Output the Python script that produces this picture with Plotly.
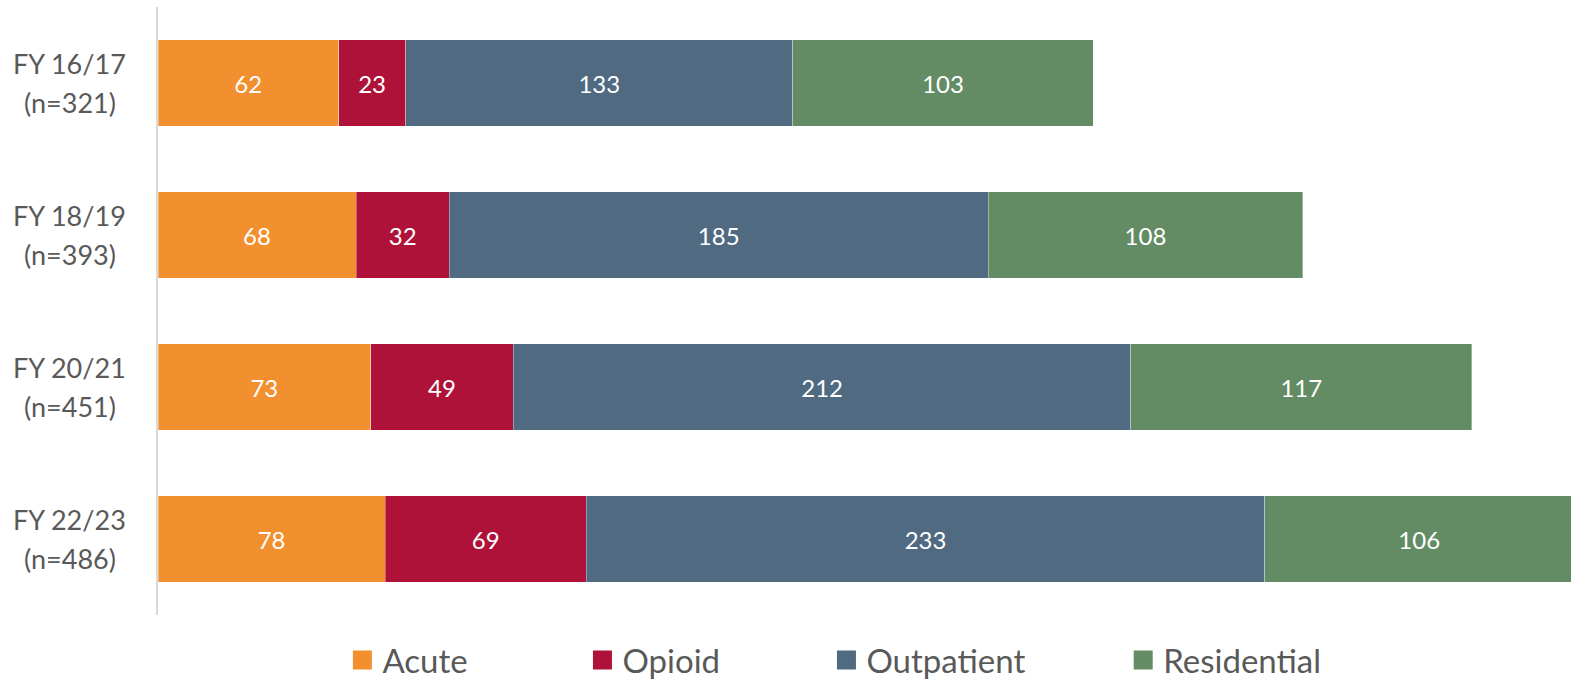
import plotly.graph_objects as go

years = ["FY 16/17", "FY 18/19", "FY 20/21", "FY 22/23"]
totals = [321, 393, 451, 486]
series_names = ["Acute", "Opioid", "Outpatient", "Residential"]
acute = [62, 68, 73, 78]
opioid = [23, 32, 49, 69]
outpatient = [133, 185, 212, 233]
residential = [103, 108, 117, 106]
colors = ["#F28F2E", "#AE1238", "#4F6A81", "#638C65"]

categories = [f"{y} (n={n})" for y, n in zip(years, totals)]
values = [acute, opioid, outpatient, residential]

FONT = "Lato"
TXT = "#595959"
fig = go.Figure()
for name, vals, col in zip(series_names, values, colors):
    fig.add_trace(go.Bar(
        y=categories, x=vals, orientation="h", name=name,
        marker=dict(color=col, line=dict(color="rgba(255,255,255,0.35)", width=1)),
        text=[str(v) for v in vals], textposition="inside",
        insidetextanchor="middle", textangle=0,
        textfont=dict(family=FONT, size=24, color="white"),
        showlegend=False, cliponaxis=True, hoverinfo="skip",
    ))

pads = [13, 12, 11, 0]
for name, col, p in zip(series_names, colors, pads):
    fig.add_trace(go.Scatter(
        x=[None], y=[None], mode="markers", name=name + "\u00a0" * p,
        marker=dict(symbol="square", size=16, color=col, line=dict(color=col, width=3)),
        showlegend=True, hoverinfo="skip",
    ))

# category labels (two centred lines each)
annotations = []
for cat, y, n in zip(categories, years, totals):
    for line, shift in ((y, 19.5), (f"(n={n})", -19.5)):
        annotations.append(dict(
            x=-0.0623, xref="paper", y=cat, yref="y", text=line,
            showarrow=False, xanchor="center", yanchor="middle", yshift=shift,
            font=dict(family=FONT, size=27, color=TXT),
        ))

fig.update_layout(
    width=1571, height=679,
    margin=dict(l=158, r=0, t=7, b=64, autoexpand=False),
    barmode="stack", bargap=0.434,
    plot_bgcolor="white", paper_bgcolor="white",
    font=dict(family=FONT, color=TXT),
    hovermode=False,
    xaxis=dict(range=[0, 485.1], visible=False, showgrid=False, zeroline=False),
    yaxis=dict(autorange="reversed", showline=True, linecolor="#D9D9D9", linewidth=2,
               showgrid=False, ticks="", showticklabels=False),
    legend=dict(orientation="h", x=0.1305, xanchor="left", y=-0.074, yanchor="middle",
                traceorder="normal",
                font=dict(family=FONT, size=33, color=TXT),
                itemclick=False, itemdoubleclick=False, tracegroupgap=0),
    annotations=annotations,
)

fig.write_html("out.html", config={"displayModeBar": False},
               post_script="document.body.style.margin='0';document.body.style.padding='0';document.body.style.overflow='hidden';")
